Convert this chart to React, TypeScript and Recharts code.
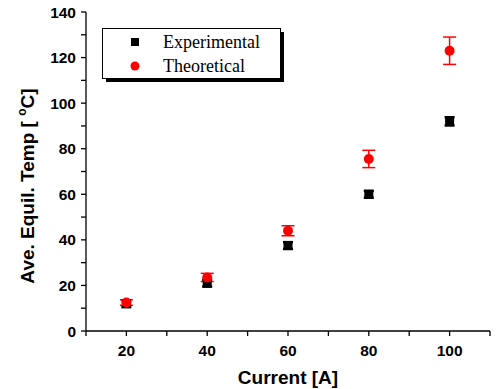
import { ScatterChart, Scatter, XAxis, YAxis, ErrorBar, Legend } from "recharts";

const currents = [20, 40, 60, 80, 100];
const experimental = [12, 21, 37.5, 60, 92];
const experimentalErr = [1.5, 1.5, 1.5, 1.5, 1.8];
const theoretical = [12.5, 23.5, 44, 75.5, 123];
const theoreticalErr = [1.2, 1.8, 2.2, 3.8, 6];

const xTicks = [10, 20, 30, 40, 50, 60, 70, 80, 90, 100, 110];
const xLabels = [20, 40, 60, 80, 100];
const yTicks = [0, 10, 20, 30, 40, 50, 60, 70, 80, 90, 100, 110, 120, 130, 140];
const yLabels = [0, 20, 40, 60, 80, 100, 120, 140];

const expData = currents.map((c, i) => ({ current: c, temp: experimental[i], err: experimentalErr[i] }));
const theoData = currents.map((c, i) => ({ current: c, temp: theoretical[i], err: theoreticalErr[i] }));

const FONT = "'Liberation Sans', Arial, sans-serif";
const SERIF = "'Liberation Serif', 'Times New Roman', serif";
const AXIS = { stroke: "#000", strokeWidth: 1.3 };

// tick lines are drawn by recharts, these only draw the labels
const BottomTick = (props: any) => {
  const { x, y, payload } = props;
  if (!xLabels.includes(payload.value)) return <g />;
  return (
    <text x={x} y={y + 20} textAnchor="middle" fontFamily={FONT} fontWeight="bold" fontSize={15.5} fill="#000">
      {payload.value}
    </text>
  );
};

const LeftTick = (props: any) => {
  const { x, y, payload } = props;
  if (!yLabels.includes(payload.value)) return <g />;
  return (
    <text x={x - 5} y={y + 5.5} textAnchor="end" fontFamily={FONT} fontWeight="bold" fontSize={15.5} fill="#000">
      {payload.value}
    </text>
  );
};

const NoLabel = () => <g />;

const YLabel = () => (
  <text
    transform="translate(34,186) rotate(-90)"
    textAnchor="middle"
    fontFamily={FONT}
    fontWeight="bold"
    fontSize={19}
    fill="#000"
  >
    Ave. Equil. Temp [ <tspan fontSize={12} dy={-8}>o</tspan><tspan dy={8}>C]</tspan>
  </text>
);

const LegendBox = ({ payload }: any) => (
  <svg width={186} height={58} style={{ display: "block" }}>
    <rect x={4} y={4} width={178} height={50} fill="#000" />
    <rect x={0.5} y={0.5} width={178} height={50} fill="#fff" stroke="#000" strokeWidth={1} />
    {(payload || []).map((p: any, i: number) => {
      const cy = 14 + i * 24;
      return (
        <g key={p.value}>
          {i === 0 ? (
            <rect x={29} y={cy - 4} width={8} height={8} fill={p.color} />
          ) : (
            <circle cx={33} cy={cy} r={4.5} fill={p.color} />
          )}
          <text x={61} y={cy + 6} fontFamily={SERIF} fontSize={18} fill="#000">
            {p.value}
          </text>
        </g>
      );
    })}
  </svg>
);

const SquareMark = ({ cx, cy }: any) => <rect x={cx - 4.5} y={cy - 4.5} width={9} height={9} fill="#000" />;
const CircleMark = ({ cx, cy }: any) => <circle cx={cx} cy={cy} r={5} fill="#ff0000" />;

export default function App() {
  return (
    <div style={{ position: "absolute", left: 0, top: 0, background: "#fff" }}>
      <ScatterChart width={498} height={389} margin={{ top: 12, right: 8, left: 0, bottom: 0 }}>
        <XAxis
          dataKey="current"
          type="number"
          domain={[10, 110]}
          ticks={xTicks}
          interval={0}
          height={58}
          tickSize={5}
          tickMargin={0}
          tickLine={AXIS}
          tick={<BottomTick />}
          axisLine={AXIS}
          label={{
            value: "Current [A]",
            position: "insideBottom",
            offset: 5,
            fill: "#000",
            fontFamily: FONT,
            fontWeight: "bold",
            fontSize: 19,
          }}
        />
        <XAxis
          xAxisId="top"
          orientation="top"
          dataKey="current"
          type="number"
          domain={[10, 110]}
          ticks={xTicks}
          interval={0}
          height={0}
          mirror
          tickSize={5}
          tickMargin={0}
          tickLine={AXIS}
          tick={<NoLabel />}
          axisLine={AXIS}
        />
        <YAxis
          dataKey="temp"
          type="number"
          domain={[0, 140]}
          ticks={yTicks}
          interval={0}
          width={86}
          tickSize={5}
          tickMargin={0}
          tickLine={AXIS}
          tick={<LeftTick />}
          axisLine={AXIS}
          label={<YLabel />}
        />
        <YAxis
          yAxisId="right"
          orientation="right"
          dataKey="temp"
          type="number"
          domain={[0, 140]}
          ticks={yTicks}
          interval={0}
          width={0}
          mirror
          tickSize={5}
          tickMargin={0}
          tickLine={AXIS}
          tick={<NoLabel />}
          axisLine={AXIS}
        />
        <Legend
          layout="vertical"
          align="center"
          verticalAlign="middle"
          content={<LegendBox />}
          wrapperStyle={{ left: 102, top: 28, width: 186, height: 58 }}
        />
        <Scatter name="Experimental" data={expData} fill="#000" shape={<SquareMark />} isAnimationActive={false}>
          <ErrorBar dataKey="err" direction="y" width={5} stroke="#000" strokeWidth={2.5} />
        </Scatter>
        <Scatter
          name="Theoretical"
          data={theoData}
          xAxisId="top"
          yAxisId="right"
          fill="#ff0000"
          shape={<CircleMark />}
          isAnimationActive={false}
        >
          <ErrorBar dataKey="err" direction="y" width={6.5} stroke="#ff0000" strokeWidth={1.5} />
        </Scatter>
      </ScatterChart>
    </div>
  );
}
